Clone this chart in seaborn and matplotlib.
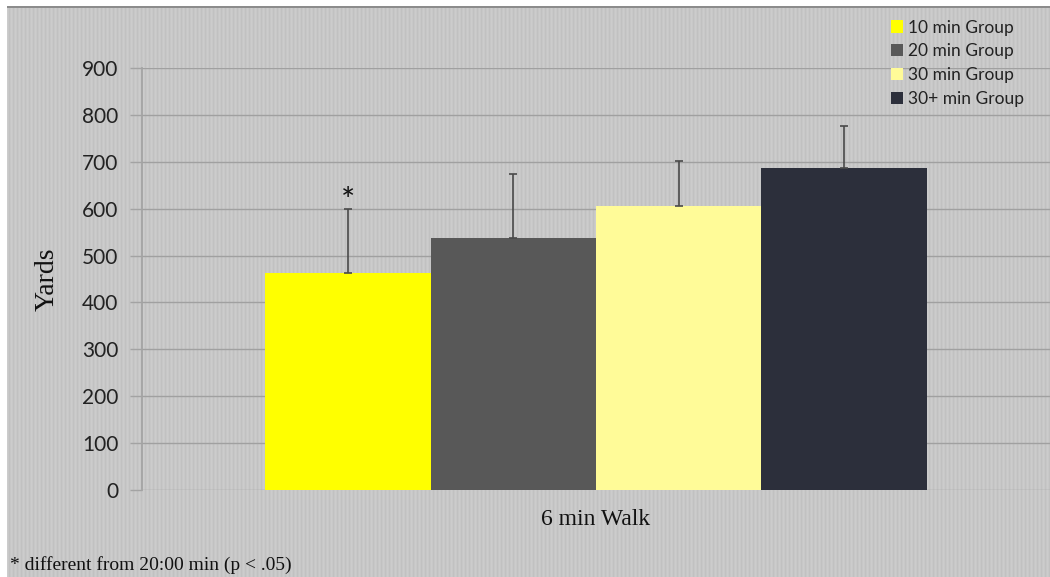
import numpy as np
import pandas as pd
import matplotlib.pyplot as plt
import seaborn as sns

# data
groups = ["10 min Group", "20 min Group", "30 min Group", "30+ min Group"]
category = "6 min Walk"
means = [462, 537, 606, 686]
sd_upper = [137, 138, 96, 91]
colors = ["#ffff00", "#585858", "#fffb98", "#2c2f3b"]
y_ticks = [0, 100, 200, 300, 400, 500, 600, 700, 800, 900]


def main():
    df = pd.DataFrame({"test": [category] * len(groups), "group": groups, "yards": means})

    sns.set_theme(style="white")
    plt.rcParams["font.family"] = ["Lato", "DejaVu Sans"]

    fig = plt.figure(figsize=(10.5, 5.77), dpi=100)
    fig.patch.set_facecolor("white")

    # striped gray slide background, top border line
    W, H = 1050, 577
    stripe = np.array([0.80, 0.785, 0.755, 0.78])
    row = np.tile(stripe, W // 4 + 1)[: W - 7]
    bg = np.repeat(row[None, :], H - 6, axis=0)
    bg[0:2, :] = 0.55
    fig.figimage(bg, xo=7, yo=0, cmap="gray", vmin=0, vmax=1, origin="upper", zorder=-5)

    ax = fig.add_axes([142 / W, 1 - 490 / H, 1 - 142 / W, (490 - 68) / H])
    ax.set_zorder(2)
    ax.set_facecolor("none")

    sns.barplot(data=df, x="test", y="yards", hue="group", palette=colors,
                width=0.728, saturation=1, errorbar=None, linewidth=0, ax=ax, legend=True)

    centers = [p.get_x() + p.get_width() / 2 for p in ax.patches[: len(groups)]]
    ax.errorbar(centers, means, yerr=[[0] * len(means), sd_upper], fmt="none",
                ecolor="#4a4a4a", elinewidth=1.2, capsize=3, capthick=1.2, zorder=3)
    ax.text(centers[0], means[0] + sd_upper[0] - 16, "*", ha="center", va="bottom",
            fontsize=24, color="#111111")

    ax.set_ylim(0, 900)
    ax.set_xlim(-0.5, 0.5)
    ax.set_yticks(y_ticks)
    ax.tick_params(axis="y", which="both", left=True, length=9, width=1, color="#a3a3a3",
                   labelsize=15, labelcolor="#222222", pad=8)
    ax.tick_params(axis="x", length=0, labelsize=17, pad=14)
    for lab in ax.get_xticklabels():
        lab.set_fontfamily(["Liberation Serif", "DejaVu Serif"])
        lab.set_color("#111111")
    ax.yaxis.grid(True, color="#a0a0a0", linewidth=1)
    ax.set_axisbelow(True)
    for side in ["top", "right", "bottom"]:
        ax.spines[side].set_visible(False)
    ax.spines["left"].set_color("#a3a3a3")
    ax.set_xlabel("")
    ax.set_ylabel("Yards", fontsize=20, family=["Liberation Serif", "DejaVu Serif"],
                  color="#111111", labelpad=16)

    handles, labels = ax.get_legend_handles_labels()
    ax.get_legend().remove()
    for h in handles:
        h.set_edgecolor("none")
    leg = fig.legend(handles, labels, loc="upper right", bbox_to_anchor=(1040 / W, 1 - 4 / H),
                     frameon=False, fontsize=12.5, handlelength=0.7, handleheight=0.7,
                     handletextpad=0.3, labelspacing=0.45, labelcolor="#222222")
    leg.set_zorder(3)

    fig.text(10 / W, 1 - 565 / H, "* different from 20:00 min (p < .05)", fontsize=14,
             family=["Liberation Serif", "DejaVu Serif"], color="#111111", va="center")

    fig.savefig("out.png", dpi=100)


if __name__ == "__main__":
    main()
